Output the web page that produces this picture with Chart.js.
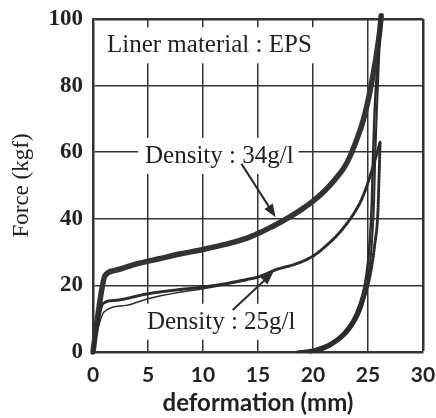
<!DOCTYPE html>
<html>
<head>
<meta charset="utf-8">
<script src="https://cdn.jsdelivr.net/npm/chart.js"></script>
<style>
  body { margin: 0; background: #fff; }
  #wrap { width: 436px; height: 418px; }
</style>
</head>
<body>
<div id="wrap"><canvas id="grafico"></canvas></div>
<script>
// deformation (mm) / force (kgf)
const d34LoadX = [0, 0.4, 1.1, 2, 4, 6, 8, 10, 12, 14, 15, 16, 17, 18, 19, 20, 21, 22, 23, 24, 24.6, 25.1, 25.5, 25.8, 26.05, 26.2];
const d34LoadY = [0, 10, 23, 24.5, 26.5, 28, 29.5, 30.8, 32.3, 34.2, 35.6, 37.2, 38.9, 40.8, 42.9, 45.3, 48.2, 51.8, 56.3, 64, 70, 77, 84, 90, 96, 101];

const d34UnloadX = [26.2, 25.9, 25.6, 25.45, 25.35, 25.2, 25, 24.7, 24.2, 23.6, 22.7, 21.5, 20, 18.5];
const d34UnloadY = [101, 88, 72, 58, 45, 35, 27, 20, 14, 9.5, 5.5, 2.5, 0.7, 0];

const d34Unload2X = [26.2, 26, 25.8, 25.65, 25.55, 25.4, 25.2, 24.9, 24.5, 24, 23.2, 22.2, 21.2, 20.2];
const d34Unload2Y = [101, 88, 72, 58, 45, 35, 27, 20, 14, 10, 6, 3, 1, 0];

const d25LoadX = [0, 0.3, 0.9, 2, 5, 8, 10, 12, 14, 15, 16.7, 18.5, 20, 21.3, 22.5, 23.6, 24.3, 24.8, 25.3, 25.8, 26.1];
const d25LoadY = [0, 6, 14.5, 15.5, 17.5, 18.8, 19.5, 20.5, 21.8, 22.5, 24.8, 26.5, 28.8, 32.2, 36.2, 41, 45, 49, 54, 59.5, 63];

const d25Load2X = [0, 0.3, 1, 3, 5, 8, 10, 12, 14];
const d25Load2Y = [0, 5, 12, 14, 16, 18, 19, 20.2, 21.5];

const d25UnloadX = [26.1, 26, 25.9, 25.6, 25.3, 24.9, 24.3, 23.5, 22.3, 21, 19.8];
const d25UnloadY = [63, 52, 42, 32, 25, 19, 13, 8, 4, 1.2, 0];

const xTicks = [0, 5, 10, 15, 20, 25, 30];
const yTicks = [0, 20, 40, 60, 80, 100];

// text labels (baseline position) and arrows inside the plot, in data units
const notes = [
    { text: 'Liner material : EPS', x: 1.27, y: 90 },
    { text: 'Density : 34g/l', x: 4.73, y: 56.8 },
    { text: 'Density : 25g/l', x: 4.9, y: 7 }
];
const arrows = [
    { x0: 13.5, y0: 56.5, x1: 16.6, y1: 40.5 },
    { x0: 12.7, y0: 12.6, x1: 16.4, y1: 24 }
];

function pts(xs, ys) {
    return xs.map((x, i) => ({ x: x, y: ys[i] }));
}

const ink = '#2b2b2b';

const notesPlugin = {
    id: 'notes',
    beforeDatasetsDraw(chart) {
        const c = chart.ctx;
        const sx = chart.scales.x;
        const sy = chart.scales.y;
        c.save();
        c.font = '25px "Liberation Serif"';
        c.textBaseline = 'alphabetic';
        c.textAlign = 'left';
        notes.forEach(n => {
            const px = sx.getPixelForValue(n.x);
            const py = sy.getPixelForValue(n.y);
            const w = c.measureText(n.text).width;
            c.fillStyle = '#fff';
            c.fillRect(px - 7, py - 25, w + 12, 36);
            c.fillStyle = '#222';
            c.fillText(n.text, px, py);
        });
        c.strokeStyle = ink;
        c.fillStyle = ink;
        c.lineWidth = 2;
        arrows.forEach(a => {
            const x0 = sx.getPixelForValue(a.x0), y0 = sy.getPixelForValue(a.y0);
            const x1 = sx.getPixelForValue(a.x1), y1 = sy.getPixelForValue(a.y1);
            const ang = Math.atan2(y1 - y0, x1 - x0);
            c.beginPath();
            c.moveTo(x0, y0);
            c.lineTo(x1 - 8 * Math.cos(ang), y1 - 8 * Math.sin(ang));
            c.stroke();
            c.beginPath();
            c.moveTo(x1, y1);
            c.lineTo(x1 - 13 * Math.cos(ang) + 5 * Math.sin(ang), y1 - 13 * Math.sin(ang) - 5 * Math.cos(ang));
            c.lineTo(x1 - 13 * Math.cos(ang) - 5 * Math.sin(ang), y1 - 13 * Math.sin(ang) + 5 * Math.cos(ang));
            c.closePath();
            c.fill();
        });
        c.restore();
    }
};

new Chart(document.getElementById('grafico'), {
    type: 'scatter',

    data: {
        datasets: [
            {
                label: '34g/l unloading',
                data: pts(d34UnloadX, d34UnloadY),
                borderColor: ink,
                borderWidth: 2.5
            },
            {
                label: '34g/l unloading 2',
                data: pts(d34Unload2X, d34Unload2Y),
                borderColor: ink,
                borderWidth: 2
            },
            {
                label: '25g/l unloading',
                data: pts(d25UnloadX, d25UnloadY),
                borderColor: ink,
                borderWidth: 3,
                borderDash: [1.5, 1.5]
            },
            {
                label: '25g/l loading 2',
                data: pts(d25Load2X, d25Load2Y),
                borderColor: ink,
                borderWidth: 1.5
            },
            {
                label: '25g/l loading',
                data: pts(d25LoadX, d25LoadY),
                borderColor: ink,
                borderWidth: 3,
                borderDash: [1.5, 1.5]
            },
            {
                label: '34g/l loading',
                data: pts(d34LoadX, d34LoadY),
                borderColor: '#333',
                borderWidth: 5.5
            }
        ]
    },

    options: {
        responsive: true,
        maintainAspectRatio: false,
        animation: false,
        showLine: true,
        clip: 8,

        elements: {
            point: { radius: 0 },
            line: { cubicInterpolationMode: 'monotone', borderCapStyle: 'round', borderJoinStyle: 'round' }
        },

        layout: {
            padding: { top: 19, right: 13, bottom: 0, left: 0 }
        },

        plugins: {
            legend: { display: false },
            tooltip: { enabled: false }
        },

        scales: {
            x: {
                type: 'linear',
                min: 0,
                max: 30,
                afterBuildTicks: s => { s.ticks = xTicks.map(v => ({ value: v })); },
                afterFit: s => { s.height = 66; s.paddingLeft = 0; s.paddingRight = 0; },
                ticks: {
                    color: '#222',
                    padding: 11,
                    font: { family: 'Lato', size: 21, weight: 'bold' }
                },
                grid: {
                    color: '#333',
                    lineWidth: c => (c.tick && c.tick.value === 30 ? 2.5 : 1.5),
                    drawTicks: false
                },
                border: { color: '#333', width: 2.5 },
                title: {
                    display: true,
                    text: 'deformation (mm)',
                    color: '#222',
                    padding: { top: 0, bottom: 0 },
                    font: { family: 'Lato', size: 24, weight: 'bold' }
                }
            },

            y: {
                min: 0,
                max: 100,
                afterBuildTicks: s => { s.ticks = yTicks.map(v => ({ value: v })); },
                afterFit: s => { s.width = 93; s.paddingTop = 0; s.paddingBottom = 0; },
                ticks: {
                    color: '#222',
                    padding: 10,
                    font: { family: 'Liberation Serif', size: 23, weight: 'bold' }
                },
                grid: {
                    color: '#333',
                    lineWidth: c => (c.tick && c.tick.value === 100 ? 2.5 : 1.5),
                    drawTicks: false
                },
                border: { color: '#333', width: 2.5 },
                title: {
                    display: true,
                    text: 'Force (kgf)',
                    color: '#222',
                    padding: { top: 8, bottom: 0 },
                    font: { family: 'Liberation Serif', size: 23 }
                }
            }
        }
    },

    plugins: [notesPlugin]
});
</script>
</body>
</html>
